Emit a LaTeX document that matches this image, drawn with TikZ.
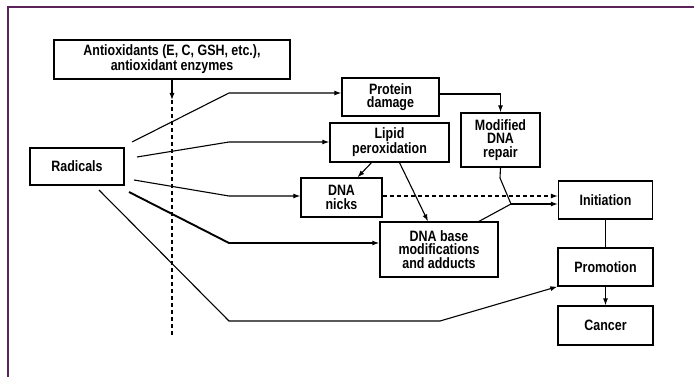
\documentclass[tikz,border=0pt]{standalone}
\usepackage{fontspec}
\setmainfont{Liberation Sans}[FakeStretch=0.83]
\usetikzlibrary{arrows.meta}
\definecolor{frameviolet}{RGB}{92,34,92}
\tikzset{
	box/.style = {draw=black, line width=1.3pt, align=center, inner sep=0pt,
		font=\bfseries\fontsize{15}{13.6}\selectfont},% rectangle de texte
	link/.style = {line width=1.1pt},% trait simple
	biglink/.style = {line width=1.9pt},% trait gras
	dashlink/.style = {line width=1.1pt, dash pattern=on 4pt off 3pt}% trait pointille
}
\begin{document}
\begin{tikzpicture}[x=1pt,y=-1pt,->,>={Latex[length=7pt,width=5pt]}]
	\useasboundingbox (0,0) rectangle (694,377);
	\draw[-, frameviolet, line width=2.6pt] (694,7) -- (8,7) -- (8,377);
	% boites
	\node[box, minimum width=236pt, minimum height=39pt] (anti) at (172,59.5)
		{Antioxidants (E, C, GSH, etc.),\\antioxidant enzymes};
	\node[box, minimum width=94pt, minimum height=37pt] (rad) at (77,166.5) {Radicals};
	\node[box, minimum width=97pt, minimum height=38pt] (prot) at (390.5,97) {Protein\\damage};
	\node[box, minimum width=119pt, minimum height=39pt] (lipid) at (389.5,142.5) {Lipid\\peroxidation};
	\node[box, minimum width=79pt, minimum height=54pt] (repair) at (500.5,140) {Modified\\DNA\\repair};
	\node[box, minimum width=81pt, minimum height=39pt] (nicks) at (341.5,197.5) {DNA\\nicks};
	\node[box, minimum width=118pt, minimum height=55pt] (base) at (439,249.5)
		{DNA base\\modifications\\and adducts};
	\node[box, minimum width=94pt, minimum height=38pt] (init) at (605.5,200) {Initiation};
	\node[box, minimum width=95pt, minimum height=38pt] (promo) at (605.5,267) {Promotion};
	\node[box, minimum width=95pt, minimum height=39pt] (cancer) at (605.5,325.5) {Cancer};
	% points libres
	\coordinate (stop) at (172,100);
	\coordinate (stopend) at (172,336);
	\coordinate (r1) at (132,142);
	\coordinate (r2) at (137,157);
	\coordinate (r3) at (134,180);
	\coordinate (r4) at (129,192);
	\coordinate (r5) at (99,190);
	\coordinate (b1) at (229,93);
	\coordinate (b2) at (229,142);
	\coordinate (b3) at (229,196);
	\coordinate (b4) at (229,243);
	\coordinate (b5) at (229,321);
	\coordinate (b6) at (440,321);
	\coordinate (knee) at (500,178);
	\coordinate (join) at (511,204);
	% connecteurs
	\draw[link] (anti) -- (stop);
	\draw[dashlink, -] (stop) -- (stopend);
	\draw[link] (r1) -- (b1) -- (b1 -| prot.west);
	\draw[link] (r2) -- (b2) -- (b2 -| lipid.west);
	\draw[link] (r3) -- (b3) -- (b3 -| nicks.west);
	\draw[biglink] (r4) -- (b4) -- (b4 -| base.west);
	\draw[link] (r5) -- (b5) -- (b6) -- (promo.south west);
	\draw[link] ([yshift=3pt]prot.east) -| (repair.north);
	\draw[link] ([xshift=-18pt]lipid.south) -- ([xshift=16pt]nicks.north);
	\draw[link] ([xshift=10pt]lipid.south) -- ([xshift=-11pt]base.north);
	\draw[dashlink] ([yshift=1.5pt]nicks.east) -- ([yshift=1.5pt]nicks.east -| init.west);
	\draw[link, -] (repair.south) -- (knee) -- (join);
	\draw[link, -] ([xshift=40pt]base.north) -- (join);
	\draw[link] (join) -- (join -| init.west);
	\draw[link, -] (init) -- (promo);
	\draw[link] (promo) -- (cancer);
\end{tikzpicture}
\end{document}
